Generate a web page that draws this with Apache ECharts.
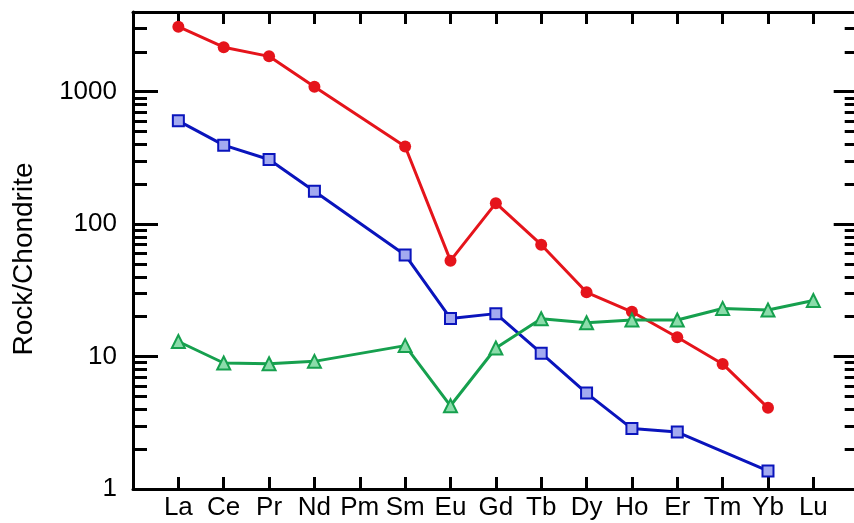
<!DOCTYPE html>
<html>
<head>
<meta charset="utf-8">
<script src="https://cdn.jsdelivr.net/npm/echarts@6/dist/echarts.min.js"></script>
<style>
  html, body { margin: 0; padding: 0; background: #fff; }
  #main { width: 854px; height: 523px; }
</style>
</head>
<body>
<div id="main"></div>
<script>
// REE order on the x axis
var elements = ["La", "Ce", "Pr", "Nd", "Pm", "Sm", "Eu", "Gd", "Tb", "Dy", "Ho", "Er", "Tm", "Yb", "Lu"];

// chondrite-normalised values (null = not measured)
var redVals = [3100, 2170, 1850, 1090, null, 386, 53, 144, 70, 30.6, 21.8, 14.0, 8.8, 4.1, null];
var blueVals = [603, 395, 308, 177, null, 58.5, 19.4, 21.1, 10.6, 5.3, 2.86, 2.69, null, 1.37, null];
var greenVals = [13.0, 8.94, 8.83, 9.2, null, 12.1, 4.25, 11.6, 19.3, 18.0, 18.9, 18.9, 23.1, 22.5, 26.5];

var yMin = 1;
var yMax = 4000;
var majorLabels = [1, 10, 100, 1000];
var minorMult = [2, 3, 4, 5, 6, 7, 8, 9];

var font = "'Liberation Sans', Arial, sans-serif";

function toPairs(vals) {
  var out = [];
  for (var i = 0; i < vals.length; i++) {
    if (vals[i] != null) out.push([i, vals[i]]);
  }
  return out;
}

// minor tick positions in log10 space
var minorTicks = [];
for (var d = 0; d < 4; d++) {
  minorMult.forEach(function (m) {
    var v = m * Math.pow(10, d);
    if (v < yMax) minorTicks.push(Math.log10(v));
  });
}

function xAxisCfg(pos, showLabel) {
  return {
    type: "value",
    position: pos,
    min: -1,
    max: elements.length,
    interval: 1,
    axisLine: { onZero: false, lineStyle: { color: "#000", width: 3 } },
    axisTick: { inside: true, length: 12, lineStyle: { color: "#000", width: 3 } },
    axisLabel: {
      show: showLabel,
      color: "#000",
      fontSize: 26,
      fontFamily: font,
      margin: 6,
      formatter: function (v) {
        return elements[v] || "";
      },
    },
    splitLine: { show: false },
  };
}

function yMajorCfg(pos, showLabel) {
  return {
    type: "log",
    logBase: 10,
    position: pos,
    min: yMin,
    max: yMax,
    axisLine: { onZero: false, lineStyle: { color: "#000", width: 3 } },
    axisTick: { inside: true, length: 25, lineStyle: { color: "#000", width: 3 } },
    axisLabel: {
      show: showLabel,
      color: "#000",
      fontSize: 26,
      fontFamily: font,
      margin: 16,
      formatter: function (v) {
        return majorLabels.indexOf(Math.round(v)) >= 0 && Math.abs(v - Math.round(v)) < 1e-6 ? String(Math.round(v)) : "";
      },
    },
    splitLine: { show: false },
  };
}

function yMinorCfg(pos) {
  return {
    type: "value",
    position: pos,
    min: 0,
    max: Math.log10(yMax),
    axisLine: { show: false, onZero: false },
    axisTick: { inside: true, length: 14, customValues: minorTicks, lineStyle: { color: "#000", width: 3 } },
    axisLabel: { show: false },
    splitLine: { show: false },
  };
}

var yAxes = [yMajorCfg("left", true), yMinorCfg("left"), yMajorCfg("right", false), yMinorCfg("right")];
yAxes[0].name = "Rock/Chondrite";
yAxes[0].nameLocation = "middle";
yAxes[0].nameGap = 95;
yAxes[0].nameTextStyle = { color: "#000", fontSize: 28, fontFamily: font, padding: [0, 17, 0, 0] };

var myChart = echarts.init(document.getElementById("main"), null, { renderer: "canvas" });
myChart.setOption({
  animation: false,
  backgroundColor: "#fff",
  grid: { left: 133, top: 12, width: 725.7, height: 477, containLabel: false, outerBoundsMode: "none" },
  xAxis: [xAxisCfg("bottom", true), xAxisCfg("top", false)],
  yAxis: yAxes,
  series: [
    {
      type: "line",
      data: toPairs(redVals),
      symbol: "circle",
      symbolSize: 12,
      lineStyle: { color: "#e5141b", width: 3 },
      itemStyle: { color: "#e5141b", borderWidth: 0 },
      z: 3,
    },
    {
      type: "line",
      data: toPairs(blueVals),
      symbol: "rect",
      symbolSize: 11,
      lineStyle: { color: "#0a14bc", width: 3 },
      itemStyle: { color: "#a3aaf0", borderColor: "#0a14bc", borderWidth: 2 },
      z: 4,
    },
    {
      type: "line",
      data: toPairs(greenVals),
      symbol: "triangle",
      symbolSize: 13,
      lineStyle: { color: "#16a04e", width: 3 },
      itemStyle: { color: "#8bdcaa", borderColor: "#16a04e", borderWidth: 2 },
      z: 5,
    },
  ],
});
</script>
</body>
</html>
